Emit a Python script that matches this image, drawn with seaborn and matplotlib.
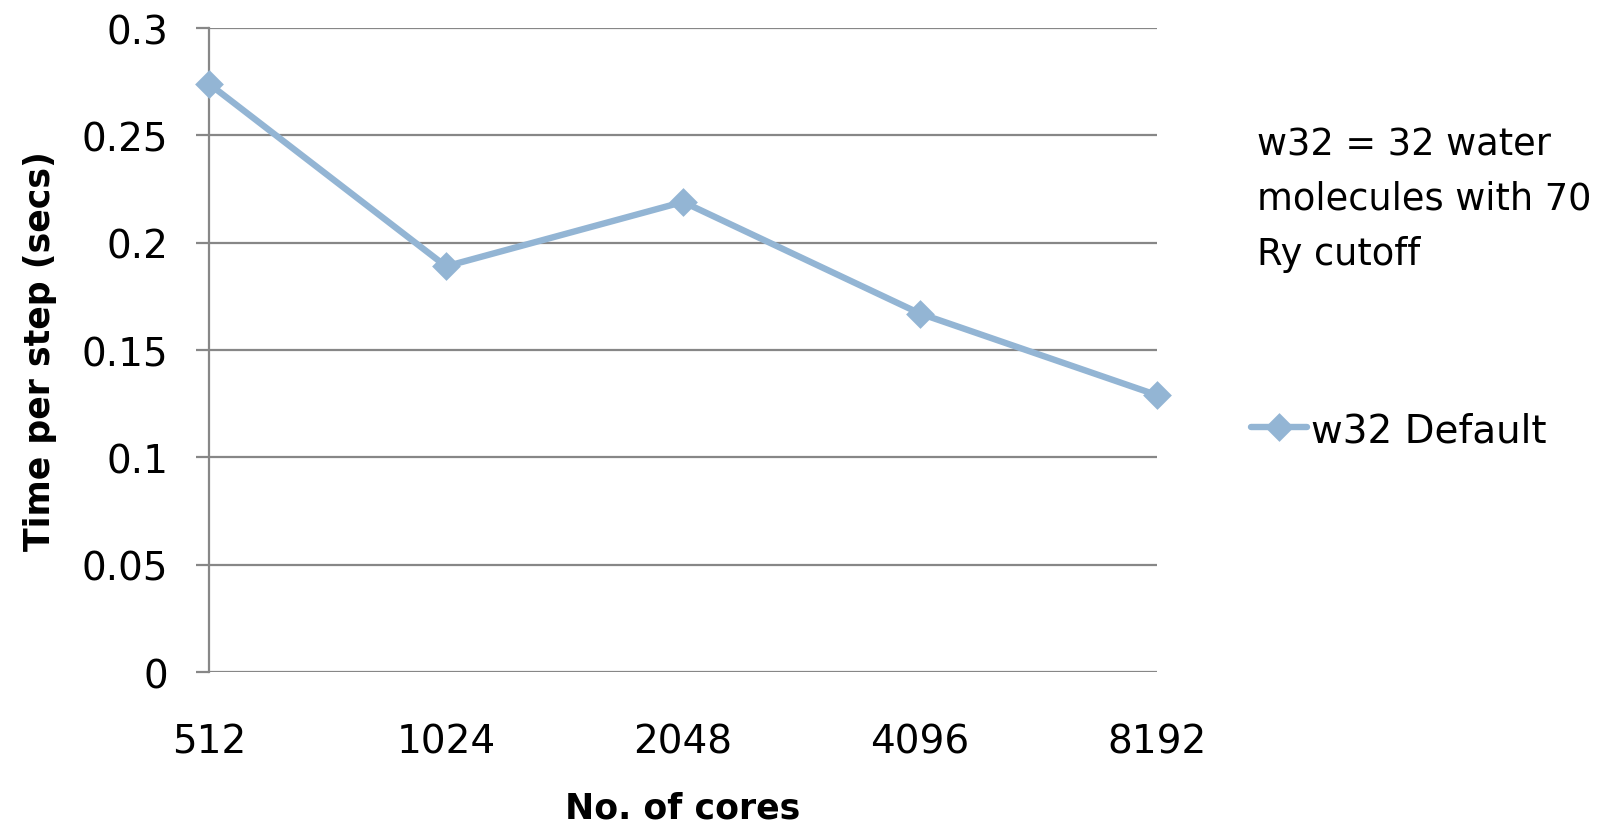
import matplotlib
matplotlib.use("Agg")
import matplotlib.pyplot as plt
import seaborn as sns
import pandas as pd

# Data
cores = ["512", "1024", "2048", "4096", "8192"]
time_per_step = [0.274, 0.189, 0.219, 0.167, 0.129]
y_ticks = [0, 0.05, 0.1, 0.15, 0.2, 0.25, 0.3]
y_tick_labels = ["0", "0.05", "0.1", "0.15", "0.2", "0.25", "0.3"]
series_name = "w32 Default"
note_lines = ["w32 = 32 water", "molecules with 70", "Ry cutoff"]

df = pd.DataFrame({"cores": cores, "time": time_per_step})

sns.set_theme(style="white")
plt.rcParams["font.family"] = ["DejaVu Sans"]
plt.rcParams["text.color"] = "black"
plt.rcParams["axes.labelcolor"] = "black"

LINE = "#93B5D4"
GRID = "#878787"
FS = 28

fig = plt.figure(figsize=(16.08, 8.29), dpi=100)
ax = fig.add_axes([0.130, 0.188, 0.5896, 0.777])

sns.pointplot(data=df, x="cores", y="time", order=cores, color=LINE,
              markers="D", markersize=11, linewidth=4.6, errorbar=None,
              label=series_name, ax=ax)
for ln in ax.lines:
    ln.set_clip_on(False)
    ln.set_zorder(5)

ax.set_xlim(0, len(cores) - 1)
ax.set_ylim(0, 0.3)
ax.set_yticks(y_ticks)
ax.set_yticklabels(y_tick_labels)

ax.grid(False)
for y in y_ticks:
    ax.axhline(y, color=GRID, lw=1.6, zorder=1)

for side in ["top", "right", "bottom"]:
    ax.spines[side].set_visible(False)
ax.spines["left"].set_color(GRID)
ax.spines["left"].set_linewidth(1.6)

ax.tick_params(axis="y", which="major", left=True, length=9.5, width=1.6,
               color=GRID, pad=20, labelsize=FS, labelcolor="black")
ax.tick_params(axis="x", which="major", bottom=False, length=0, pad=36,
               labelsize=FS, labelcolor="black")

ax.set_xlabel("No. of cores", fontsize=25, fontweight="bold", labelpad=22,
              color="black")
ax.set_ylabel("Time per step (secs)", fontsize=25, fontweight="bold",
              color="black")
ax.yaxis.set_label_coords(-0.160, 0.5)

# Explanatory note to the right of the plot
for i, line in enumerate(note_lines):
    fig.text(0.7815, 0.813 - i * 0.0663, line, fontsize=26.5, va="baseline",
             ha="left", color="black")

handles, labels = ax.get_legend_handles_labels()
if ax.get_legend() is not None:
    ax.get_legend().remove()
leg = fig.legend(handles, labels, loc="center left",
                 bbox_to_anchor=(0.778, 0.480), frameon=False, fontsize=FS,
                 handlelength=1.44, handletextpad=0.1, borderpad=0,
                 borderaxespad=0)
for t in leg.get_texts():
    t.set_color("black")

fig.savefig("out.png", dpi=100)
